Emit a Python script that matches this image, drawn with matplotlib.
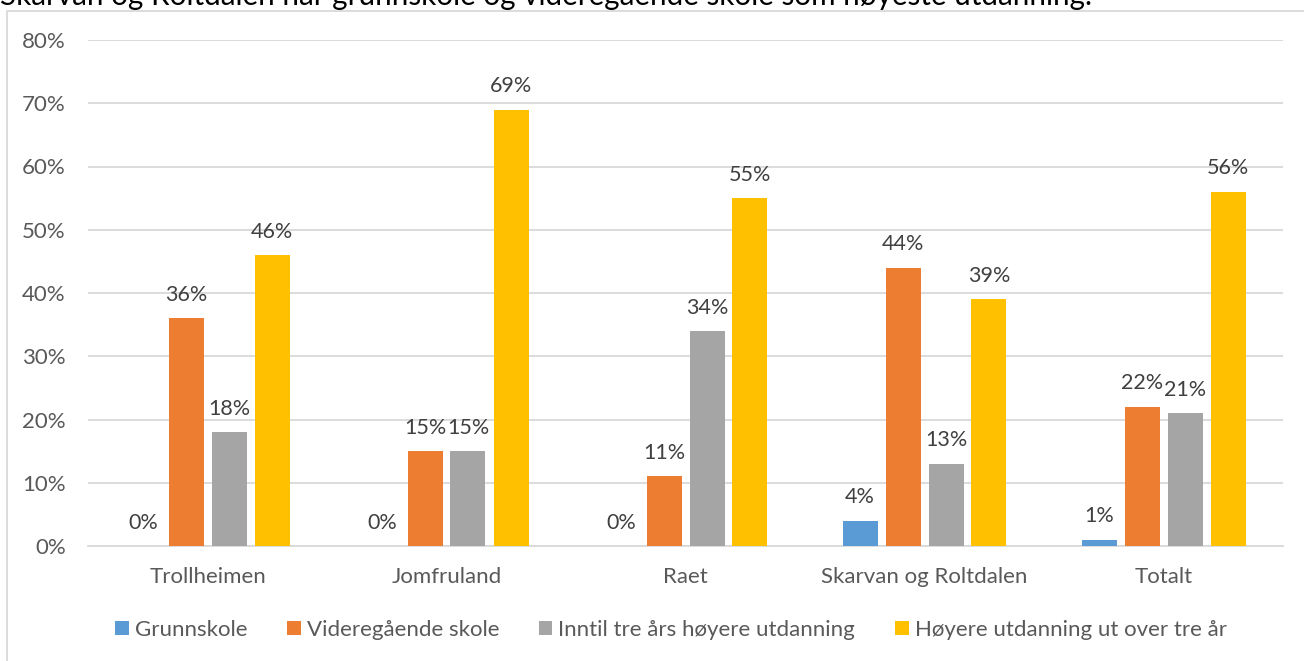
import matplotlib
matplotlib.use("Agg")
import matplotlib.pyplot as plt
import numpy as np
from matplotlib.patches import Rectangle

categories = ["Trollheimen", "Jomfruland", "Raet", "Skarvan og Roltdalen", "Totalt"]
series_names = ["Grunnskole", "Videregående skole", "Inntil tre års høyere utdanning",
                "Høyere utdanning ut over tre år"]
grunnskole = [0, 0, 0, 4, 1]
videregaende = [36, 15, 11, 44, 22]
inntil_tre = [18, 15, 34, 13, 21]
over_tre = [46, 69, 55, 39, 56]
yticks = [0, 10, 20, 30, 40, 50, 60, 70, 80]
title_text = "Skarvan og Roltdalen har grunnskole og videregående skole som høyeste utdanning."

colors = ["#5B9BD5", "#ED7D31", "#A5A5A5", "#FFC000"]
txt = "#595959"

plt.rcParams['font.family'] = ['Lato', 'DejaVu Sans']

W, H = 1304, 661
fig = plt.figure(figsize=(W / 100, H / 100), dpi=100)

# chart frame
fig.patches.append(Rectangle((7 / W, -0.1), 1.2, (H - 10.5) / H + 0.1, transform=fig.transFigure,
                             fill=False, edgecolor="#D9D9D9", linewidth=1.3))

# clipped title at top
fig.text(0 / W, 1 - 5 / H, title_text, fontsize=21.3, color="black", va="baseline", ha="left")

ax = fig.add_axes([88 / W, 1 - 546 / H, (1283 - 88) / W, (546 - 40) / H])
series = [grunnskole, videregaende, inntil_tre, over_tre]
x = np.arange(len(categories))
bw = 35 / 239
step = 43 / 239
for i, (vals, c) in enumerate(zip(series, colors)):
    pos = x + (i - 1.5) * step
    ax.bar(pos, vals, width=bw, color=c, label=series_names[i], zorder=3)
    for p, v in zip(pos, vals):
        ax.annotate(f"{v}%", (p, v), xytext=(0, 12.5), textcoords="offset points",
                    ha="center", va="baseline", fontsize=15.5, color="#404040")

ax.set_xlim(-0.5, len(categories) - 0.5)
ax.set_ylim(0, 80)
ax.set_yticks(yticks)
ax.set_yticklabels([f"{t}%" for t in yticks])
ax.set_xticks(x)
ax.set_xticklabels(categories)
ax.tick_params(axis="both", length=0, labelsize=16, colors=txt)
ax.tick_params(axis="y", pad=16)
ax.tick_params(axis="x", pad=15)
ax.grid(axis="y", color="#D9D9D9", linewidth=1.3, zorder=0)
for s in ["top", "right", "left"]:
    ax.spines[s].set_visible(False)
ax.spines["bottom"].set_color("#D9D9D9")
ax.spines["bottom"].set_linewidth(1.3)

leg = fig.legend(loc="center", bbox_to_anchor=(671 / W, 1 - 630 / H), ncol=4, frameon=False,
                 fontsize=16, handlelength=0.6, handleheight=0.6, handletextpad=0.27,
                 columnspacing=1.8, labelcolor=txt)

fig.savefig("out.png", dpi=100)
